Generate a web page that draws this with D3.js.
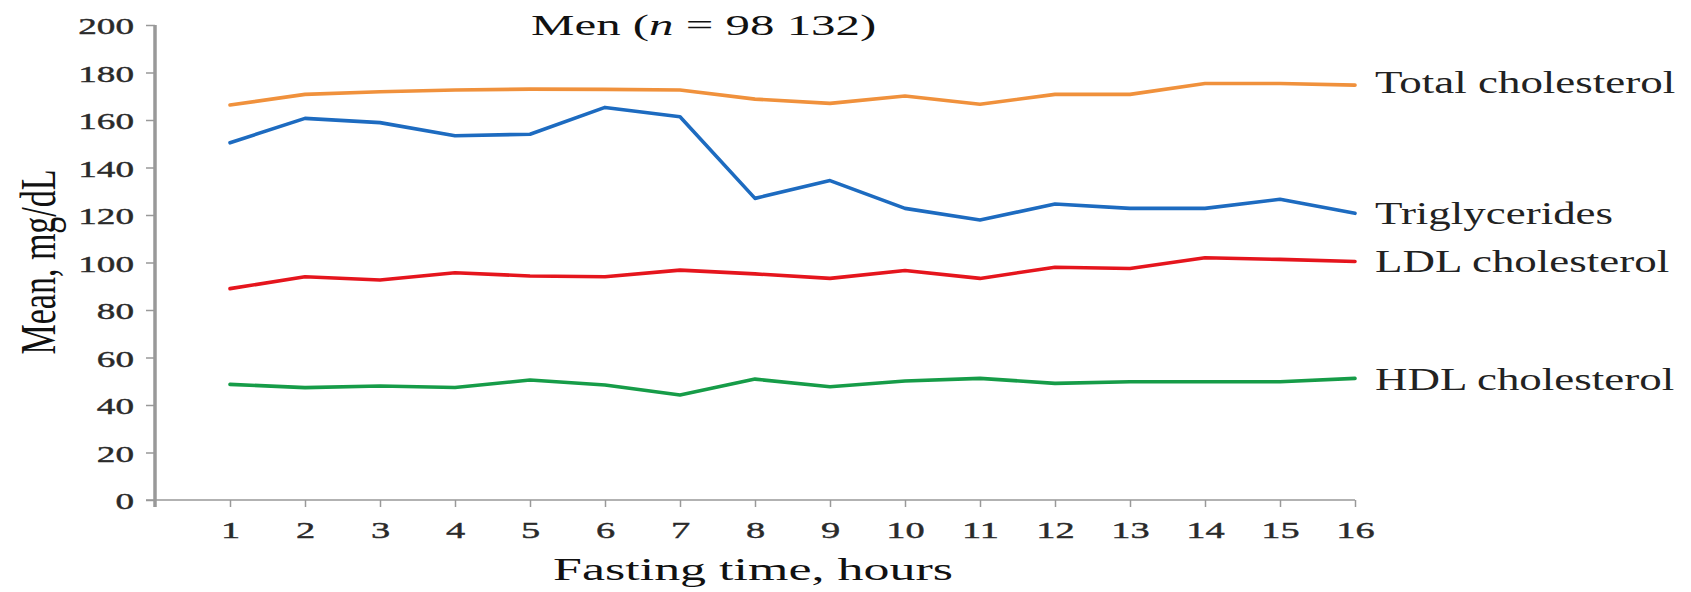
<!DOCTYPE html>
<html>
<head>
<meta charset="utf-8">
<script src="https://cdn.jsdelivr.net/npm/d3@7"></script>
<style>
  html, body { margin: 0; padding: 0; background: #fff; }
  svg { display: block; }
  text { font-family: "Liberation Serif", "Times New Roman", serif; }
</style>
</head>
<body>
<svg id="chart" width="1691" height="592"></svg>
<script>
// Mean lipid levels by fasting time, men
const hours = [1, 2, 3, 4, 5, 6, 7, 8, 9, 10, 11, 12, 13, 14, 15, 16];
const totalCholesterol = [166.3, 170.8, 171.9, 172.6, 173.0, 172.9, 172.6, 168.8, 167.0, 170.1, 166.6, 170.8, 170.8, 175.4, 175.4, 174.7];
const triglycerides   = [150.4, 160.7, 158.9, 153.4, 154.0, 165.3, 161.4, 127.0, 134.5, 122.8, 117.9, 124.6, 122.8, 122.8, 126.6, 120.7];
const ldlCholesterol  = [89.0, 94.0, 92.6, 95.7, 94.3, 94.0, 96.8, 95.2, 93.3, 96.6, 93.3, 98.0, 97.5, 102.0, 101.3, 100.4];
const hdlCholesterol  = [48.7, 47.3, 48.0, 47.4, 50.5, 48.4, 44.2, 50.9, 47.7, 50.1, 51.2, 49.1, 49.8, 49.8, 49.8, 51.2];
const seriesNames = ["Total cholesterol", "Triglycerides", "LDL cholesterol", "HDL cholesterol"];
const yTicks = [0, 20, 40, 60, 80, 100, 120, 140, 160, 180, 200];
const titleText = "Men (";
const xTitle = "Fasting time, hours";
const yTitle = "Mean, mg/dL";

const series = [
  { name: seriesNames[0], values: totalCholesterol, color: "#f0913c", labelY: 93 },
  { name: seriesNames[1], values: triglycerides,    color: "#1d6bc0", labelY: 224 },
  { name: seriesNames[2], values: ldlCholesterol,   color: "#e5151d", labelY: 272 },
  { name: seriesNames[3], values: hdlCholesterol,   color: "#169c48", labelY: 390 }
];

const svg = d3.select("#chart");
const x = d3.scaleLinear().domain([0, 16]).range([155, 1355]);
const y = d3.scaleLinear().domain([0, 200]).range([500, 25]);

const axisGrey = "#999";
const textColor = "#222";
const serif = "'Liberation Serif', 'Times New Roman', serif";

// Y axis
const gy = svg.append("g").attr("transform", `translate(${x(0)},0)`)
  .call(d3.axisLeft(y).tickValues(yTicks).tickSize(9).tickSizeOuter(0))
  .attr("font-family", serif);
gy.select(".domain").remove();
gy.append("line").attr("x1", 0).attr("x2", 0).attr("y1", y(200)).attr("y2", y(0) + 7)
  .attr("stroke", axisGrey).attr("stroke-width", 3.5);
gy.selectAll(".tick line").attr("stroke", axisGrey).attr("stroke-width", 1.5);
gy.selectAll(".tick text")
  .attr("x", 0).attr("dy", null).attr("y", 0)
  .attr("transform", "translate(-21,8.5) scale(1.55,1)")
  .attr("text-anchor", "end")
  .attr("fill", "#2a2a2a")
  .attr("stroke", "#2a2a2a").attr("stroke-width", 0.4)
  .style("font-size", "24px");

// X axis
const gx = svg.append("g").attr("transform", `translate(0,${y(0)})`)
  .call(d3.axisBottom(x).tickValues(hours).tickSize(7).tickSizeOuter(0).tickFormat(d3.format("d")))
  .attr("font-family", serif);
gx.select(".domain").remove();
gx.append("line").attr("x1", x(0) - 9).attr("x2", x(16)).attr("y1", 0).attr("y2", 0)
  .attr("stroke", axisGrey).attr("stroke-width", 1.5);
gx.selectAll(".tick line").attr("stroke", axisGrey).attr("stroke-width", 1.5);
gx.selectAll(".tick text")
  .attr("y", 0).attr("dy", null)
  .attr("transform", "translate(0,38) scale(1.6,1)")
  .attr("text-anchor", "middle")
  .attr("fill", "#2a2a2a")
  .attr("stroke", "#2a2a2a").attr("stroke-width", 0.4)
  .style("font-size", "24px");

// Series lines
const line = d3.line().x((d, i) => x(hours[i])).y(d => y(d));
svg.append("g").selectAll("path").data(series).join("path")
  .attr("d", d => line(d.values))
  .attr("fill", "none")
  .attr("stroke", d => d.color)
  .attr("stroke-width", 3.6)
  .attr("stroke-linejoin", "round")
  .attr("stroke-linecap", "round");

// Series labels at the right end
svg.append("g").selectAll("text").data(series).join("text")
  .attr("transform", d => `translate(1375,${d.labelY}) scale(1.45,1)`)
  .attr("fill", textColor)
  .style("font-size", "31px")
  .text(d => d.name);

// Title
const title = svg.append("text")
  .attr("transform", "translate(531,35) scale(1.63,1)")
  .attr("fill", "#111")
  .style("font-size", "30px");
title.append("tspan").text(titleText);
title.append("tspan").style("font-style", "italic").text("n");
title.append("tspan").text(" = 98 132)");

// Axis titles
svg.append("text")
  .attr("transform", "translate(753,580) scale(1.65,1)")
  .attr("text-anchor", "middle")
  .attr("fill", "#111")
  .style("font-size", "31.5px")
  .text(xTitle);

svg.append("text")
  .attr("transform", "translate(55,262) scale(1.52,1) rotate(-90)")
  .attr("text-anchor", "middle")
  .attr("fill", "#111")
  .style("font-size", "34px")
  .text(yTitle);
</script>
</body>
</html>
